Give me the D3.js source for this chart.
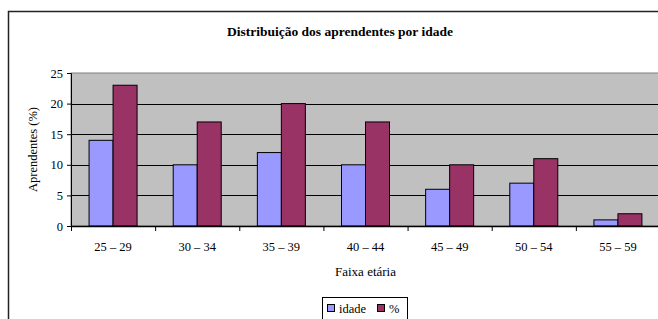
<!DOCTYPE html>
<html><head><meta charset="utf-8">
<script src="https://cdn.jsdelivr.net/npm/d3@7"></script>
<style>body{margin:0;background:#fff}svg{display:block}</style>
</head><body>
<svg id="c" width="658" height="319"></svg>
<script>
const categories = ["25 – 29","30 – 34","35 – 39","40 – 44","45 – 49","50 – 54","55 – 59"];
const idade = [14,10,12,10,6,7,1];
const pct = [23,17,20,17,10,11,2];
const seriesNames = ["idade","%"];
const yTicks = [0,5,10,15,20,25];
const colors = ["#9999FF","#993366"];

const svg = d3.select("#c");
svg.append("rect").attr("x",8.5).attr("y",11.5).attr("width",700).attr("height",400)
  .attr("fill","#fff").attr("stroke","#222").attr("stroke-width",1.5);

const L=71, R=660, T=73, B=226;
const x = d3.scaleBand().domain(categories).range([L,R]).paddingInner(0).paddingOuter(0);
const y = d3.scaleLinear().domain([0,25]).range([B,T]);
const xs = d3.scaleBand().domain(seriesNames).range([0,48]);

svg.append("rect").attr("x",L).attr("y",T).attr("width",R-L).attr("height",B-T)
  .attr("fill","#C0C0C0").attr("stroke","#808080").attr("stroke-width",1);

svg.append("g").selectAll("line").data(yTicks.filter(d=>d>0 && d<25)).join("line")
  .attr("x1",L).attr("x2",R).attr("y1",d=>Math.round(y(d))+0.5).attr("y2",d=>Math.round(y(d))+0.5)
  .attr("stroke","#000").attr("stroke-width",1);

const data = categories.map((c,i)=>({c, vals:[idade[i],pct[i]]}));
const g = svg.append("g").selectAll("g").data(data).join("g")
  .attr("transform",d=>`translate(${x(d.c)+(x.bandwidth()-48)/2},0)`);
g.selectAll("rect").data(d=>d.vals.map((v,j)=>({v,s:seriesNames[j],j}))).join("rect")
  .attr("x",d=>xs(d.s)).attr("width",xs.bandwidth())
  .attr("y",d=>y(d.v)).attr("height",d=>B-y(d.v))
  .attr("fill",d=>colors[d.j]).attr("stroke","#000").attr("stroke-width",1);

const yAxis = svg.append("g").attr("transform",`translate(${L},0)`)
  .call(d3.axisLeft(y).tickValues(yTicks).tickSize(4).tickPadding(4));
yAxis.select(".domain").attr("stroke","#000");
const xAxis = svg.append("g").attr("transform",`translate(0,${B})`)
  .call(d3.axisBottom(x).tickSize(0).tickPadding(16));
xAxis.select(".domain").attr("stroke","#000").attr("stroke-width",1.5);
svg.append("g").selectAll("line").data(categories).join("line")
  .attr("x1",d=>x(d)+0.5).attr("x2",d=>x(d)+0.5).attr("y1",B).attr("y2",B+5).attr("stroke","#000");

const title = svg.append("text").attr("x",340).attr("y",36).attr("text-anchor","middle")
  .text("Distribuição dos aprendentes por idade");
svg.append("text").attr("transform",`translate(37,${(T+B)/2}) rotate(-90)`).attr("text-anchor","middle")
  .text("Aprendentes (%)");
const xt = svg.append("text").attr("x",(L+R)/2).attr("y",276).attr("text-anchor","middle")
  .text("Faixa etária");

const lg = svg.append("g");
lg.append("rect").attr("x",322.5).attr("y",297.5).attr("width",85).attr("height",30)
  .attr("fill","#fff").attr("stroke","#000");
const items = [{n:"idade",x:327,c:colors[0]},{n:"%",x:377,c:colors[1]}];
items.forEach(it=>{
  lg.append("rect").attr("x",it.x+0.5).attr("y",304.5).attr("width",7).attr("height",7)
    .attr("fill",it.c).attr("stroke","#000");
  lg.append("text").attr("x",it.x+12).attr("y",312.5).text(it.n);
});

svg.selectAll("text").style("font-family","'Liberation Serif'").style("font-size","12.5px").style("fill","#000");
title.style("font-size","13.5px").style("font-weight","bold");
xt.style("font-size","13px");
</script>
</body></html>
